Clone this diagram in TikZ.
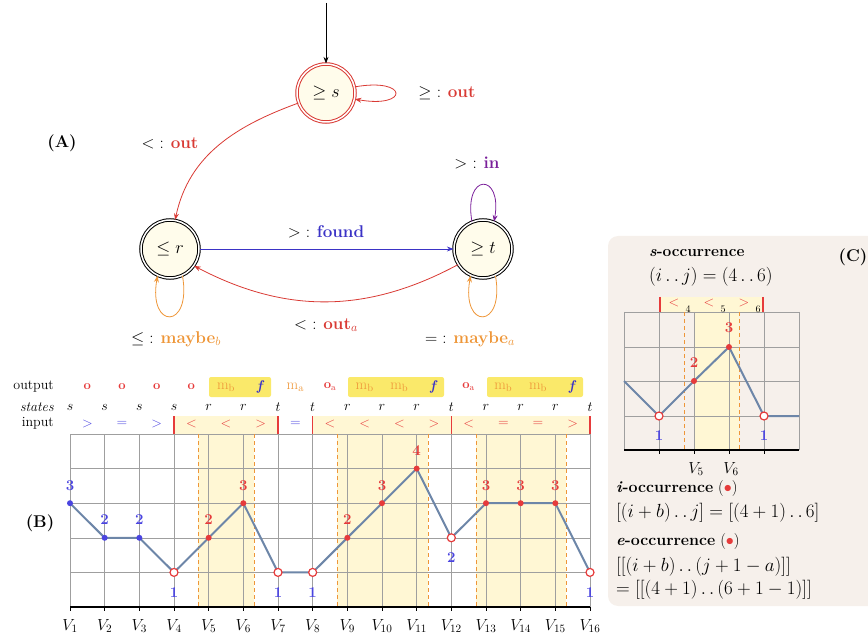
\RequirePackage{fix-cm}
\documentclass[tikz,border=0pt]{standalone}
\usetikzlibrary{positioning,arrows.meta}

\definecolor{outred}{HTML}{D93A34}
\definecolor{dotred}{HTML}{E63B3B}
\definecolor{numblue}{HTML}{4A44E0}
\definecolor{foundblue}{HTML}{3B33C6}
\definecolor{mayorange}{HTML}{EE9638}
\definecolor{inpurple}{HTML}{7A1F9A}
\definecolor{curveblue}{HTML}{6D86A8}
\definecolor{statefill}{HTML}{FFFCEB}
\definecolor{bandyellow}{HTML}{FFF7D4}
\definecolor{markyellow}{HTML}{FAE96A}
\definecolor{panelbg}{HTML}{F6F0EB}

\newcommand{\setfs}[1]{\fontsize{#1}{#1}\selectfont}
\newcommand{\twodots}{\mathinner{\ldotp\ldotp}}
\newcommand{\outO}{\textcolor{dotred}{\textbf{o}}}
\newcommand{\outOa}{\textcolor{dotred}{\textbf{o}\textsubscript{a}}}
\newcommand{\outMb}{\textcolor{mayorange}{\setfs{15}m\textsubscript{b}}}
\newcommand{\outMa}{\textcolor{mayorange}{\setfs{15}m\textsubscript{a}}}
\newcommand{\outF}{\textcolor{foundblue}{\setfs{14}\textbf{\textit{f}}}}

\begin{document}
\begin{tikzpicture}[
    x=1pt, y=-1pt,
    >=Stealth,
    state/.style={circle, draw, double, double distance=1.5pt, line width=1pt, fill=statefill, minimum size=58pt, inner sep=0pt, font=\setfs{18}},
    trans/.style={->, line width=0.8pt},
    lab/.style={font=\setfs{17}, inner sep=1pt},
    tag/.style={font=\setfs{17}\bfseries, inner sep=1pt},
    rowlab/.style={font=\setfs{14}, anchor=east, inner sep=1pt},
    rowtxt/.style={font=\setfs{14}, inner sep=1pt},
    outtxt/.style={font=\setfs{13}, inner sep=1pt},
    gridline/.style={gray!75, line width=0.5pt},
    barline/.style={dotred, line width=1.3pt},
    edgedash/.style={mayorange, line width=1pt, dash pattern=on 4pt off 3pt},
    profile/.style={curveblue, line width=2pt, line join=round},
    hitdot/.style={circle, fill=dotred, inner sep=0pt, minimum size=6pt},
    lowdot/.style={circle, fill=numblue, inner sep=0pt, minimum size=6pt},
    missdot/.style={circle, draw=dotred, fill=white, line width=1.2pt, inner sep=0pt, minimum size=8pt},
    numlab/.style={font=\setfs{15}\bfseries, inner sep=1pt},
    vlab/.style={font=\setfs{16}, inner sep=1pt},
    ptxt/.style={font=\setfs{16}, anchor=west, inner sep=1pt},
    pmath/.style={font=\setfs{19}, anchor=west, inner sep=1pt}
]
  \useasboundingbox (0,0) rectangle (868,639);

  % (C) panel background
  \fill[panelbg, rounded corners=10pt] (608,236) rectangle (890,606);

  % automaton
  \node[state, draw=outred] (s) at (326,93) {$\geq s$};
  \node[state, on grid, below left=156pt and 156pt of s] (r) {$\leq r$};
  \node[state, on grid, right=313pt of r] (t) {$\geq t$};
  \coordinate (init) at (326,3);

  \draw[trans] (init) -- (s);
  \draw[trans, outred] (s.12) .. controls +(10:55pt) and +(-10:55pt) .. (s.-12);
  \draw[trans, outred] (s.200) to[out=200, in=78] (r.80);
  \draw[trans, foundblue] (r) -- (t);
  \draw[trans, outred] (t.212) to[bend left=28] (r.-35);
  \draw[trans, inpurple] (t.112) .. controls +(100:50pt) and +(80:50pt) .. (t.68);
  \draw[trans, mayorange] (r.-65) .. controls +(-80:55pt) and +(-100:55pt) .. (r.-115);
  \draw[trans, mayorange] (t.-65) .. controls +(-80:55pt) and +(-100:55pt) .. (t.-115);

  \node[lab] (ls) at (447,93) {$\geq$ : \textcolor{outred}{\textbf{out}}};
  \node[lab] (lsr) at (170,143) {$<$ : \textcolor{outred}{\textbf{out}}};
  \node[lab] (lrt) at (326,232) {$>$ : \textcolor{foundblue}{\textbf{found}}};
  \node[lab] (ltr) at (326,325) {$<$ : \textcolor{outred}{\textbf{out}$_a$}};
  \node[lab] (lt) at (477,163) {$>$ : \textcolor{inpurple}{\textbf{in}}};
  \node[lab] (lr) at (176,339) {$\leq$ : \textcolor{mayorange}{\textbf{maybe}$_b$}};
  \node[lab] (ltt) at (470,339) {$=$ : \textcolor{mayorange}{\textbf{maybe}$_a$}};
  \node[tag] (A) at (62,143) {(A)};

  % (B) rows above the chart
  \node[rowlab] (outlab) at (55,387) {output};
  \node[rowlab] (stlab) at (55,407) {\textit{states}};
  \node[rowlab] (inlab) at (55,423) {input};

  \fill[markyellow, rounded corners=2pt] (209,377) rectangle (271,397);
  \fill[markyellow, rounded corners=2pt] (348,377) rectangle (444,397);
  \fill[markyellow, rounded corners=2pt] (487,377) rectangle (583,397);
  \foreach \o [count=\i] in {\outO,\outO,\outO,\outO,\outMb,\outF,\outMa,\outOa,\outMb,\outMb,\outF,\outOa,\outMb,\outMb,\outF}
    \node[outtxt] (o\i) at ({70+(\i-0.5)*34.667},387) {\o};
  \foreach \s [count=\i] in {s,s,s,s,r,r,t,t,r,r,r,t,r,r,r,t}
    \node[rowtxt] (st\i) at ({70+(\i-1)*34.667},407) {$\s$};

  \fill[bandyellow] (174,416) rectangle (278,434);
  \fill[bandyellow] (313,416) rectangle (590,434);
  \foreach \c/\sym [count=\i] in {numblue/>,numblue/=,numblue/>,dotred/<,dotred/<,dotred/>,numblue/=,dotred/<,dotred/<,dotred/<,dotred/>,dotred/<,dotred/=,dotred/=,dotred/>}
    \node[rowtxt, text=\c] (in\i) at ({70+(\i-0.5)*34.667},424) {$\sym$};
  \foreach \i in {4,7,8,12,16}
    \draw[barline] ({70+(\i-1)*34.667},416) -- ++(0,18);

  % (B) chart
  \fill[bandyellow] (198,434) rectangle (254,607);
  \fill[bandyellow] (337,434) rectangle (428,607);
  \fill[bandyellow] (476,434) rectangle (566,607);
  \foreach \i in {1,...,16}
    \draw[gridline] ({70+(\i-1)*34.667},434) -- ++(0,173);
  \foreach \y in {434,468,503,538,572}
    \draw[gridline] (70,\y) -- (590,\y);
  \foreach \x in {198,254,337,428,476,566}
    \draw[edgedash] (\x,434) -- (\x,607);
  \draw[line width=1.4pt] (70,607) -- (590,607);
  \foreach \i in {1,...,16}
    \draw[line width=0.9pt] ({70+(\i-1)*34.667},607) -- ++(0,4);

  \foreach \v [count=\i] in {3,2,2,1,2,3,1,1,2,3,4,2,3,3,3,1}
    \coordinate (v\i) at ({70+(\i-1)*34.667},{607-34.6*\v});
  \draw[profile] (v1) \foreach \i in {2,...,16} {-- (v\i)};

  \foreach \i/\v in {1/3,2/2,3/2} {
    \node[lowdot] (d\i) at (v\i) {};
    \node[numlab, text=numblue] (n\i) at ([yshift=18pt]v\i) {\v};
  }
  \foreach \i/\v in {5/2,6/3,9/2,10/3,11/4,13/3,14/3,15/3} {
    \node[hitdot] (d\i) at (v\i) {};
    \node[numlab, text=dotred] (n\i) at ([yshift=18pt]v\i) {\v};
  }
  \foreach \i/\v in {4/1,7/1,8/1,12/2,16/1} {
    \node[missdot] (d\i) at (v\i) {};
    \node[numlab, text=numblue] (n\i) at ([yshift=-20pt]v\i) {\v};
  }
  \foreach \i in {1,...,16}
    \node[vlab] (V\i) at ({70+(\i-1)*34.667},626) {$V_{\i}$};
  \node[tag] (B) at (40,523) {(B)};

  % (C) single occurrence
  \node[tag] (C) at (853,257) {(C)};
  \node[ptxt, font=\setfs{15.5}\bfseries] (socc) at (648,253) {\textit{s}-occurrence};
  \node[pmath] (sij) at (648,277) {$(i\twodots j)=(4\twodots 6)$};

  \fill[bandyellow] (660,297) rectangle (763,312);
  \fill[bandyellow] (694,312) rectangle (739,450);
  \foreach \x in {624,659,...,799}
    \draw[gridline] (\x,312) -- (\x,450);
  \foreach \y in {312,347,381,416}
    \draw[gridline] (624,\y) -- (799,\y);
  \foreach \x in {684,739}
    \draw[edgedash] (\x,312) -- (\x,450);
  \draw[line width=1.4pt] (624,450) -- (799,450);
  \foreach \x in {659,694,...,764}
    \draw[line width=0.9pt] (\x,450) -- ++(0,4);
  \foreach \x in {660,763}
    \draw[barline] (\x,297) -- (\x,312);
  \foreach \sym/\x/\k in {</674/4,</709/5,>/744/6} {
    \node[rowtxt, text=dotred] (c\k) at (\x,303) {$\sym$};
    \node[font=\setfs{10}, inner sep=0pt] (ck\k) at (\x+14,309) {\k};
  }

  \coordinate (w3) at (624,381);
  \coordinate (w4) at (659,416);
  \coordinate (w5) at (694,381);
  \coordinate (w6) at (729,347);
  \coordinate (w7) at (764,416);
  \coordinate (w8) at (799,416);
  \draw[profile] (w3) -- (w4) -- (w5) -- (w6) -- (w7) -- (w8);
  \node[missdot] (e4) at (w4) {};
  \node[hitdot] (e5) at (w5) {};
  \node[hitdot] (e6) at (w6) {};
  \node[missdot] (e7) at (w7) {};
  \node[numlab, text=dotred] (m5) at ([yshift=18pt]w5) {2};
  \node[numlab, text=dotred] (m6) at ([yshift=19pt]w6) {3};
  \node[numlab, text=numblue] (m4) at ([yshift=-20pt]w4) {1};
  \node[numlab, text=numblue] (m7) at ([yshift=-20pt]w7) {1};
  \node[vlab] (W5) at (696,469) {$V_5$};
  \node[vlab] (W6) at (731,469) {$V_6$};

  \node[ptxt] (iocc) at (615,489) {\textbf{\textit{i}-occurrence} (\textcolor{dotred}{$\bullet$})};
  \node[pmath] (iij) at (615,513) {$[(i+b)\twodots j]=[(4+1)\twodots 6]$};
  \node[ptxt] (eocc) at (615,542) {\textbf{\textit{e}-occurrence} (\textcolor{dotred}{$\bullet$})};
  \node[pmath] (eij) at (615,567) {$[[(i+b)\twodots(j+1-a)]]$};
  \node[pmath] (eval) at (615,590) {$=[[(4+1)\twodots(6+1-1)]]$};
\end{tikzpicture}
\end{document}
